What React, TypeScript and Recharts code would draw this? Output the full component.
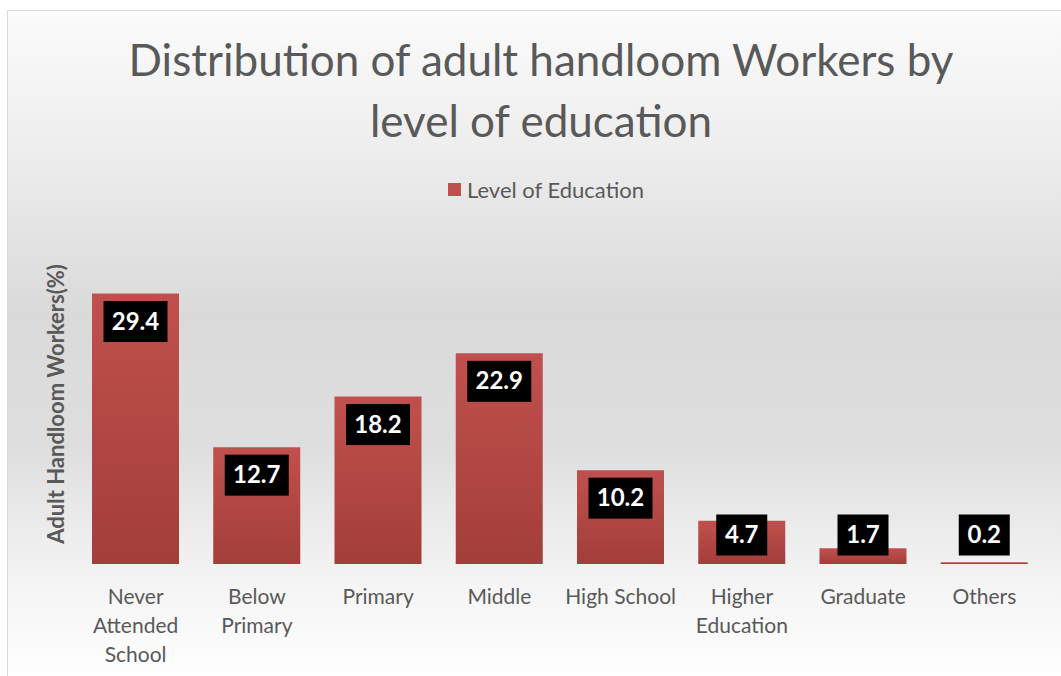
import { Bar, BarChart, XAxis, YAxis } from 'recharts'

const categories = [
  'Never Attended School',
  'Below Primary',
  'Primary',
  'Middle',
  'High School',
  'Higher Education',
  'Graduate',
  'Others',
]
const tickLines = [
  ['Never', 'Attended', 'School'],
  ['Below', 'Primary'],
  ['Primary'],
  ['Middle'],
  ['High School'],
  ['Higher', 'Education'],
  ['Graduate'],
  ['Others'],
]
const shares = [29.4, 12.7, 18.2, 22.9, 10.2, 4.7, 1.7, 0.2]
const seriesName = 'Level of Education'
const titleLines = ['Distribution of adult handloom Workers by', 'level of education']
const yLabel = 'Adult Handloom Workers(%)'

const data = categories.map((name, i) => ({ name, value: shares[i] }))

const FONT = 'Lato, "Open Sans", sans-serif'
const GREY = '#595959'

const CategoryTick = (props: any) => {
  const { x, y, payload } = props
  const lines = tickLines[payload.index] || [payload.value]
  return (
    <g transform={`translate(${x},${y})`}>
      {lines.map((line, i) => (
        <text
          key={i}
          x={0}
          y={32 + i * 29}
          textAnchor="middle"
          fill={GREY}
          fontSize={21}
          fontFamily={FONT}
        >
          {line}
        </text>
      ))}
    </g>
  )
}

const ValueLabel = (props: any) => {
  const { x, y, width, height, value } = props
  const text = String(value)
  const boxW = text.length * 13 + 12
  const boxH = 41
  const cx = x + width / 2
  // Excel keeps the label inside the top, but lifts it above the base on short bars
  const cy = Math.min(y + 28, y + height - 29)
  return (
    <g>
      <rect x={cx - boxW / 2} y={cy - boxH / 2} width={boxW} height={boxH} fill="#000" />
      <text
        x={cx}
        y={cy + 8}
        textAnchor="middle"
        fill="#fff"
        fontSize={24}
        fontWeight="bold"
        fontFamily={FONT}
      >
        {text}
      </text>
    </g>
  )
}

export default function App() {
  return (
    <div
      style={{
        position: 'fixed',
        left: 0,
        top: 0,
        width: 1061,
        height: 676,
        overflow: 'hidden',
        background: '#fff',
      }}
    >
      <div
        style={{
          position: 'absolute',
          left: 7,
          top: 10,
          width: 1066,
          height: 670,
          border: '1px solid #d9d9d9',
          background:
            'linear-gradient(to bottom, #fbfbfb 0%, #eeeeee 20%, #dadada 45%, #dedede 65%, #f4f4f4 85%, #ffffff 100%)',
          fontFamily: FONT,
        }}
      >
        <svg
          width={1066}
          height={665}
          style={{ position: 'absolute', left: 0, top: 0, pointerEvents: 'none' }}
        >
          {titleLines.map((line, i) => (
            <text
              key={i}
              x={533}
              y={65 + i * 61}
              textAnchor="middle"
              fill={GREY}
              fontSize={44}
              fontFamily={FONT}
            >
              {line}
            </text>
          ))}
          <rect x={440} y={172} width={13} height={13} fill="#c0504d" />
          <text x={459} y={187} fill={GREY} fontSize={22} fontFamily={FONT}>
            {seriesName}
          </text>
          <text
            transform="translate(56,393) rotate(-90)"
            textAnchor="middle"
            fill={GREY}
            fontSize={22}
            fontWeight="bold"
            fontFamily={FONT}
          >
            {yLabel}
          </text>
        </svg>
        <BarChart
          width={1066}
          height={665}
          data={data}
          margin={{ top: 231, right: 29, left: 67, bottom: 0 }}
          style={{ position: 'absolute', left: 0, top: 0 }}
        >
          <defs>
            <linearGradient id="barFill" x1="0" y1="0" x2="0" y2="1">
              <stop offset="0%" stopColor="#c0504d" />
              <stop offset="100%" stopColor="#a33e3b" />
            </linearGradient>
          </defs>
          <XAxis
            dataKey="name"
            axisLine={false}
            tickLine={false}
            interval={0}
            height={112}
            tick={<CategoryTick />}
          />
          <YAxis hide width={0} domain={[0, 35]} />
          <Bar
            dataKey="value"
            name={seriesName}
            barSize={87}
            fill="url(#barFill)"
            isAnimationActive={false}
            label={<ValueLabel />}
          />
        </BarChart>
      </div>
    </div>
  )
}
